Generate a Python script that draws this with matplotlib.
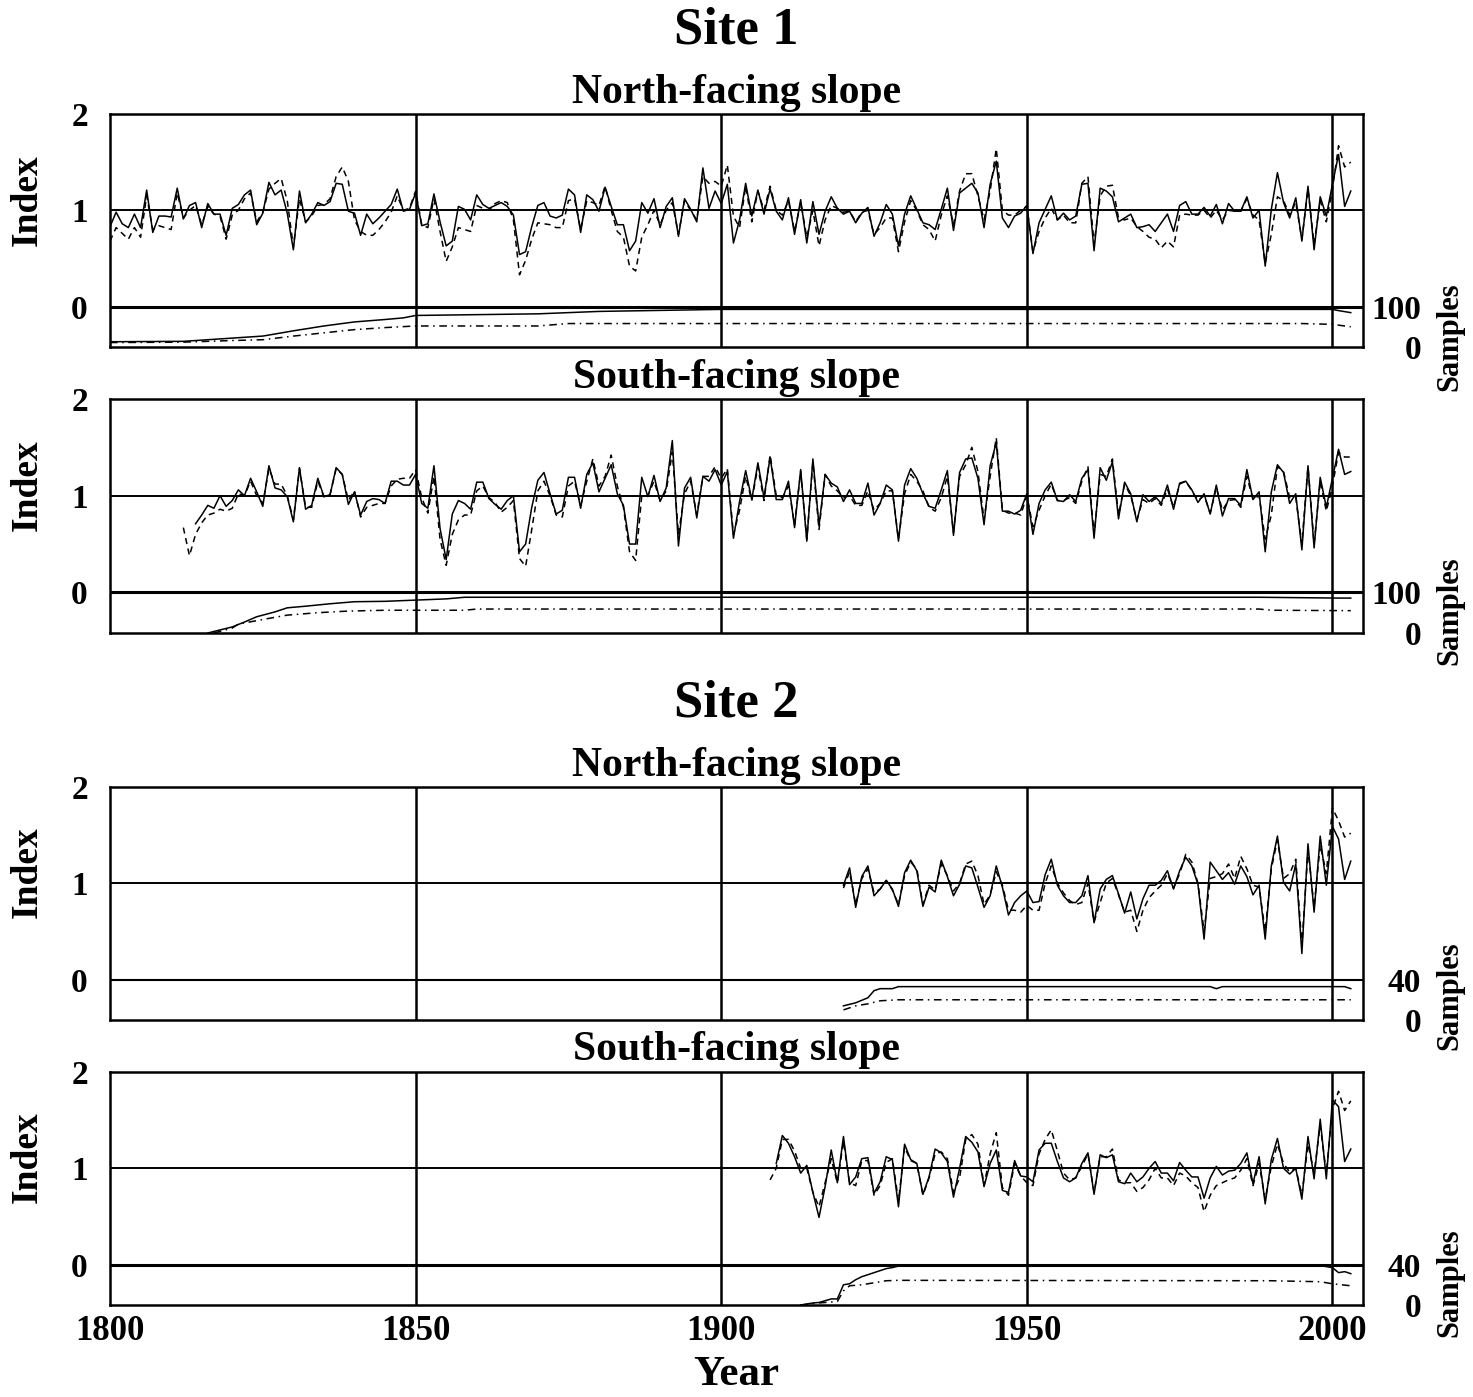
"""Tree-ring index chronologies with sample depth, two sites x two slopes."""
import numpy as np
import matplotlib
matplotlib.use("Agg")
import matplotlib.pyplot as plt

plt.rcParams["font.family"] = ["Liberation Serif", "DejaVu Serif"]
plt.rcParams["font.weight"] = "bold"

# ---------------- Site 1, north-facing slope ----------------
s1n_start_solid = 1800
s1n_solid = [
    0.83, 0.98, 0.86, 0.82, 0.96, 0.82, 1.21, 0.77, 0.94, 0.94,
    0.93, 1.23, 0.91, 1.05, 1.08, 0.82, 1.07, 0.96, 0.96, 0.74,
    1.02, 1.06, 1.16, 1.21, 0.85, 0.97, 1.29, 1.16, 1.21, 0.97,
    0.59, 1.20, 0.87, 0.96, 1.08, 1.05, 1.09, 1.28, 1.27, 0.99,
    0.97, 0.74, 0.96, 0.86, 0.92, 0.99, 1.06, 1.22, 0.99, 1.01,
    1.18, 0.84, 0.86, 1.17, 0.88, 0.63, 0.68, 1.04, 1.01, 0.90,
    1.16, 1.06, 1.02, 1.05, 1.08, 1.04, 0.95, 0.54, 0.57, 0.83,
    1.05, 1.08, 0.94, 0.92, 0.95, 1.22, 1.16, 0.77, 1.16, 1.11,
    0.99, 1.24, 1.04, 0.85, 0.85, 0.58, 0.68, 1.08, 0.97, 1.12,
    0.82, 1.04, 1.13, 0.73, 1.12, 1.01, 0.88, 1.44, 1.02, 1.20,
    1.07, 1.27, 0.66, 0.90, 1.28, 0.94, 1.21, 0.96, 1.22, 0.99,
    0.90, 1.13, 0.75, 1.11, 0.66, 1.09, 0.75, 0.99, 1.14, 1.02,
    0.96, 0.99, 0.87, 0.97, 1.03, 0.73, 0.87, 1.06, 0.96, 0.63,
    0.96, 1.15, 1.01, 0.87, 0.85, 0.80, 1.01, 1.23, 0.79, 1.18,
    1.23, 1.28, 1.18, 0.82, 1.27, 1.51, 0.92, 0.82, 0.94, 0.97,
    1.05, 0.55, 0.87, 1.01, 1.15, 0.90, 0.97, 0.90, 0.94, 1.27,
    1.28, 0.58, 1.23, 1.20, 1.14, 0.88, 0.92, 0.96, 0.82, 0.83,
    0.85, 0.78, 0.87, 0.96, 0.78, 1.05, 1.09, 0.96, 0.96, 1.03,
    0.94, 1.06, 0.86, 1.07, 0.99, 0.99, 1.14, 0.92, 1.00, 0.42,
    1.01, 1.39, 1.08, 0.92, 1.13, 0.68, 1.25, 0.59, 1.14, 0.94,
    1.27, 1.58, 1.04, 1.20,
]
s1n_start_dash = 1800
s1n_dash = [
    0.68, 0.82, 0.76, 0.70, 0.82, 0.72, 1.15, 0.80, 0.84, 0.82,
    0.80, 1.18, 0.92, 1.00, 1.05, 0.85, 1.04, 0.96, 0.94, 0.70,
    0.95, 1.00, 1.12, 1.18, 0.88, 0.98, 1.22, 1.28, 1.33, 1.10,
    0.62, 1.12, 0.88, 0.94, 1.05, 1.06, 1.12, 1.35, 1.45, 1.30,
    0.90, 0.78, 0.74, 0.74, 0.80, 0.88, 0.98, 1.15, 1.00, 1.02,
    1.20, 0.85, 0.82, 1.12, 0.78, 0.47, 0.62, 0.82, 0.80, 0.78,
    1.05, 1.02, 1.00, 1.07, 1.10, 1.08, 0.90, 0.33, 0.48, 0.70,
    0.87, 0.86, 0.85, 0.82, 0.82, 1.10, 1.12, 0.80, 1.10, 1.08,
    1.05, 1.25, 1.00, 0.78, 0.72, 0.42, 0.37, 0.72, 0.85, 1.00,
    0.85, 1.00, 1.08, 0.75, 1.10, 1.00, 0.90, 1.35, 1.28, 1.30,
    1.25, 1.47, 0.94, 0.82, 1.25, 0.88, 1.20, 1.00, 1.25, 1.00,
    0.95, 1.10, 0.78, 1.08, 0.72, 1.00, 0.63, 0.90, 1.05, 1.02,
    0.98, 0.99, 0.88, 0.98, 1.00, 0.75, 0.82, 0.92, 0.92, 0.57,
    0.88, 1.10, 1.00, 0.85, 0.80, 0.68, 0.95, 1.15, 0.85, 1.20,
    1.38, 1.38, 1.15, 0.90, 1.20, 1.64, 1.00, 0.95, 0.95, 1.00,
    1.04, 0.57, 0.78, 0.92, 1.02, 0.90, 0.95, 0.87, 0.87, 1.28,
    1.35, 0.65, 1.15, 1.25, 1.26, 0.92, 0.90, 0.92, 0.83, 0.78,
    0.72, 0.70, 0.61, 0.68, 0.62, 0.95, 0.96, 0.95, 0.95, 1.00,
    0.92, 1.00, 0.90, 1.00, 0.99, 0.99, 1.12, 0.95, 0.90, 0.45,
    0.75, 1.14, 1.10, 0.95, 1.08, 0.70, 1.22, 0.65, 1.10, 0.88,
    1.22, 1.67, 1.45, 1.50,
]
s1n_samp_years_solid = [1800, 1812, 1816, 1820, 1825, 1830, 1835, 1840, 1845,
                        1848, 1850, 1870, 1880, 1900, 2000, 2001, 2003]
s1n_samp_solid = [13, 14, 18, 22, 27, 40, 52, 62, 68, 72, 78, 82, 88, 93, 93,
                  90, 85]
s1n_samp_years_dash = [1800, 1812, 1820, 1825, 1830, 1835, 1840, 1845, 1850,
                       1870, 1875, 1995, 2000, 2003]
s1n_samp_dash = [11, 12, 16, 18, 27, 35, 43, 48, 52, 52, 58, 58, 56, 50]

# ---------------- Site 1, south-facing slope ----------------
s1s_start_solid = 1814
s1s_solid = [
    0.71, 0.80, 0.90, 0.87, 1.00, 0.89, 0.95, 1.06, 1.00, 1.18,
    1.04, 0.89, 1.31, 1.08, 1.06, 0.99, 0.73, 1.29, 0.86, 0.90,
    1.18, 0.99, 1.01, 1.29, 1.22, 0.91, 1.04, 0.80, 0.94, 0.97,
    0.96, 0.92, 1.15, 1.15, 1.11, 1.11, 1.22, 0.92, 0.87, 1.31,
    0.66, 0.34, 0.81, 0.95, 0.92, 0.86, 1.14, 1.14, 0.97, 0.91,
    0.86, 0.95, 1.00, 0.42, 0.50, 0.88, 1.16, 1.24, 1.02, 0.81,
    0.85, 1.19, 1.19, 0.87, 1.22, 1.34, 1.04, 1.18, 1.32, 1.02,
    0.90, 0.50, 0.50, 1.19, 0.99, 1.21, 0.94, 1.08, 1.57, 0.48,
    1.08, 1.19, 0.77, 1.20, 1.15, 1.27, 1.11, 1.25, 0.56, 0.94,
    1.26, 0.96, 1.34, 0.98, 1.40, 0.96, 0.96, 1.15, 0.67, 1.27,
    0.53, 1.38, 0.69, 1.22, 1.13, 1.09, 0.94, 1.06, 0.92, 0.92,
    1.13, 0.80, 0.92, 1.11, 1.06, 0.53, 1.11, 1.28, 1.18, 1.02,
    0.89, 0.87, 1.06, 1.26, 0.59, 1.24, 1.38, 1.39, 1.18, 0.70,
    1.31, 1.55, 0.84, 0.84, 0.81, 0.85, 1.02, 0.60, 0.92, 1.06,
    1.14, 0.95, 0.94, 1.01, 0.94, 1.18, 1.27, 0.56, 1.29, 1.16,
    1.35, 0.76, 1.14, 1.02, 0.73, 1.01, 0.94, 0.99, 0.92, 1.11,
    0.86, 1.13, 1.15, 1.06, 0.93, 1.02, 0.81, 1.11, 0.79, 0.97,
    0.97, 0.90, 1.27, 0.96, 1.04, 0.42, 1.04, 1.32, 1.24, 0.92,
    1.02, 0.44, 1.31, 0.46, 1.19, 0.88, 1.18, 1.48, 1.22, 1.25,
]
s1s_start_dash = 1812
s1s_dash = [
    0.67, 0.38, 0.60, 0.72, 0.80, 0.82, 0.86, 0.84, 0.87, 1.02,
    1.00, 1.15, 1.00, 0.92, 1.28, 1.12, 1.12, 1.00, 0.75, 1.28,
    0.88, 0.88, 1.15, 0.99, 1.01, 1.28, 1.22, 0.95, 1.05, 0.78,
    0.88, 0.90, 0.92, 0.92, 1.10, 1.17, 1.18, 1.18, 1.27, 0.98,
    0.82, 1.20, 0.55, 0.28, 0.60, 0.75, 0.80, 0.80, 1.05, 1.10,
    0.98, 0.93, 0.83, 0.88, 0.95, 0.35, 0.27, 0.65, 1.05, 1.15,
    1.00, 0.80, 0.78, 1.10, 1.15, 0.90, 1.15, 1.38, 1.10, 1.20,
    1.42, 1.10, 0.88, 0.42, 0.33, 1.00, 1.00, 1.15, 0.95, 1.05,
    1.45, 0.60, 1.02, 1.15, 0.80, 1.20, 1.20, 1.30, 1.18, 1.28,
    0.60, 0.85, 1.20, 0.95, 1.30, 0.95, 1.42, 1.00, 0.98, 1.10,
    0.70, 1.25, 0.55, 1.35, 0.65, 1.22, 1.10, 1.05, 0.98, 1.00,
    0.90, 0.90, 1.05, 0.85, 0.92, 1.05, 1.05, 0.55, 1.02, 1.22,
    1.15, 1.05, 0.88, 0.84, 0.98, 1.20, 0.62, 1.20, 1.32, 1.50,
    1.25, 0.75, 1.20, 1.60, 0.85, 0.82, 0.82, 0.80, 1.00, 0.68,
    0.85, 1.00, 1.12, 0.95, 0.95, 0.98, 0.92, 1.15, 1.30, 0.60,
    1.22, 1.20, 1.38, 0.80, 1.12, 1.00, 0.75, 0.96, 0.92, 0.97,
    0.90, 1.07, 0.88, 1.12, 1.15, 1.05, 0.95, 1.00, 0.82, 1.08,
    0.85, 0.95, 0.96, 0.88, 1.20, 0.96, 1.00, 0.55, 0.80, 1.30,
    1.25, 0.98, 0.98, 0.50, 1.30, 0.50, 1.15, 0.84, 1.10, 1.45,
    1.40, 1.40,
]
s1s_samp_years_solid = [1816, 1820, 1822, 1824, 1827, 1829, 1832, 1836, 1840,
                        1845, 1850, 1855, 1858, 1988, 2001, 2003]
s1s_samp_solid = [0, 15, 27, 40, 52, 62, 66, 72, 77, 78, 81, 84, 88, 88, 86, 86]
s1s_samp_years_dash = [1817, 1820, 1821, 1826, 1829, 1834, 1839, 1845, 1858,
                       1860, 1988, 1990, 2003]
s1s_samp_dash = [0, 12, 22, 36, 44, 50, 54, 56, 56, 59, 59, 56, 55]

# ---------------- Site 2, north-facing slope ----------------
s2n_start_solid = 1920
s2n_solid = [
    0.98, 1.16, 0.75, 1.07, 1.18, 0.87, 0.94, 1.03, 0.94, 0.76,
    1.11, 1.24, 1.13, 0.76, 0.96, 0.91, 1.24, 1.07, 0.87, 0.99,
    1.18, 1.16, 0.96, 0.75, 0.87, 1.18, 0.96, 0.67, 0.80, 0.87,
    0.92, 0.80, 0.81, 1.09, 1.25, 0.98, 0.87, 0.80, 0.80, 0.87,
    1.08, 0.59, 0.94, 1.04, 1.08, 0.89, 0.69, 0.91, 0.63, 0.84,
    0.98, 0.98, 1.03, 1.13, 0.94, 1.13, 1.27, 1.18, 0.99, 0.42,
    1.22, 1.13, 1.04, 1.11, 0.99, 1.18, 1.07, 0.88, 0.98, 0.42,
    1.18, 1.49, 1.01, 0.92, 1.20, 0.27, 1.41, 0.70, 1.49, 0.98,
    1.59, 1.46, 1.04, 1.23,
]
s2n_start_dash = 1920
s2n_dash = [
    0.95, 1.12, 0.78, 1.05, 1.15, 0.90, 0.94, 1.03, 0.93, 0.78,
    1.08, 1.22, 1.15, 0.78, 0.98, 0.93, 1.20, 1.08, 0.92, 1.00,
    1.20, 1.23, 1.08, 0.78, 0.88, 1.12, 0.98, 0.72, 0.72, 0.70,
    0.77, 0.72, 0.72, 1.00, 1.18, 1.00, 0.90, 0.82, 0.78, 0.80,
    1.00, 0.60, 0.80, 1.00, 1.05, 0.88, 0.70, 0.72, 0.50, 0.72,
    0.85, 0.92, 0.98, 1.10, 0.95, 1.10, 1.30, 1.22, 1.00, 0.50,
    1.05, 1.07, 1.10, 1.20, 1.05, 1.28, 1.15, 0.98, 0.96, 0.50,
    1.15, 1.45, 1.05, 1.10, 1.25, 0.35, 1.35, 0.75, 1.40, 1.10,
    1.78, 1.65, 1.48, 1.52,
]
s2n_samp_years_solid = [1920, 1922, 1924, 1925, 1926, 1928, 1929, 1980, 1981,
                        1982, 2002, 2003]
s2n_samp_solid = [14, 17, 22, 29, 31, 31, 33, 33, 31, 33, 33, 31]
s2n_samp_years_dash = [1920, 1922, 1924, 1926, 1929, 2003]
s2n_samp_dash = [10, 14, 16, 19, 20, 20]

# ---------------- Site 2, south-facing slope ----------------
s2s_start_solid = 1909
s2s_solid = [
    1.05, 1.34, 1.26, 1.12, 0.95, 1.03, 0.75, 0.49, 0.81, 1.19,
    0.85, 1.33, 0.83, 0.91, 1.10, 1.11, 0.74, 0.86, 1.12, 1.09,
    0.60, 1.25, 1.09, 1.05, 0.73, 0.91, 1.20, 1.16, 1.07, 0.70,
    1.00, 1.33, 1.27, 1.17, 0.81, 1.05, 1.19, 0.77, 0.75, 1.08,
    0.92, 0.91, 0.86, 1.19, 1.26, 1.26, 1.07, 0.90, 0.86, 0.90,
    1.05, 1.16, 0.73, 1.14, 1.11, 1.14, 0.86, 0.84, 0.95, 0.86,
    0.91, 1.00, 1.07, 0.95, 0.95, 0.87, 1.06, 0.98, 0.91, 0.91,
    0.69, 0.90, 1.02, 0.93, 0.97, 0.98, 1.05, 1.16, 0.84, 1.12,
    0.63, 1.09, 1.31, 1.00, 0.94, 1.00, 0.68, 1.33, 0.89, 1.51,
    0.89, 1.71, 1.64, 1.07, 1.20,
]
s2s_start_dash = 1908
s2s_dash = [
    0.88, 1.00, 1.30, 1.30, 1.18, 1.00, 1.00, 0.75, 0.60, 0.85,
    1.10, 0.85, 1.28, 0.85, 0.82, 1.08, 1.08, 0.72, 0.82, 1.06,
    1.10, 0.66, 1.22, 1.08, 1.05, 0.72, 0.90, 1.15, 1.17, 1.10,
    0.75, 0.90, 1.30, 1.35, 1.25, 0.82, 1.15, 1.37, 0.80, 0.72,
    1.05, 0.92, 0.85, 0.82, 1.15, 1.30, 1.40, 1.18, 0.95, 0.88,
    0.90, 1.02, 1.15, 0.75, 1.12, 1.12, 1.20, 0.88, 0.85, 0.85,
    0.76, 0.80, 0.88, 1.00, 0.90, 0.90, 0.82, 0.95, 0.92, 0.85,
    0.80, 0.55, 0.72, 0.82, 0.85, 0.88, 0.90, 0.98, 1.10, 0.82,
    1.05, 0.68, 1.02, 1.25, 1.05, 0.96, 1.00, 0.72, 1.25, 0.95,
    1.45, 0.95, 1.62, 1.80, 1.60, 1.70,
]
s2s_samp_years_solid = [1913, 1915, 1916, 1918, 1919, 1920, 1921, 1922, 1923,
                        1925, 1926, 1927, 1928, 1929, 1930, 1998, 2000, 2001,
                        2002, 2003]
s2s_samp_solid = [0, 2, 2.5, 6, 6, 20, 21, 25, 28, 32, 34, 36, 37, 38.5, 39,
                  39, 37, 32, 33, 31]
s2s_samp_years_dash = [1913, 1916, 1919, 1920, 1921, 1923, 1925, 1927, 1929,
                       1990, 1998, 2000, 2003]
s2s_samp_dash = [0, 2, 3.5, 14, 19, 20, 22, 24, 24.4, 24, 23, 21, 19]

decades = [1800, 1850, 1900, 1950, 2000]

YLO, YHI = -0.42, 2.0
FW, FH = 1473, 1397
LEFT, RIGHT = 110, 1363

# pixel positions: axes top/bottom, title, "Index" and "Samples" label centres
panels = [
    dict(top=114, bot=347, title="North-facing slope", ty=93, iy=200, sy=337,
         solid=(s1n_start_solid, s1n_solid), dash=(s1n_start_dash, s1n_dash),
         samp_s=(s1n_samp_years_solid, s1n_samp_solid),
         samp_d=(s1n_samp_years_dash, s1n_samp_dash), smax=100, zlw=2.2),
    dict(top=399, bot=633, title="South-facing slope", ty=378, iy=485, sy=611,
         solid=(s1s_start_solid, s1s_solid), dash=(s1s_start_dash, s1s_dash),
         samp_s=(s1s_samp_years_solid, s1s_samp_solid),
         samp_d=(s1s_samp_years_dash, s1s_samp_dash), smax=100, zlw=2.2),
    dict(top=787, bot=1020, title="North-facing slope", ty=766, iy=872, sy=996,
         solid=(s2n_start_solid, s2n_solid), dash=(s2n_start_dash, s2n_dash),
         samp_s=(s2n_samp_years_solid, s2n_samp_solid),
         samp_d=(s2n_samp_years_dash, s2n_samp_dash), smax=40, zlw=1.5),
    dict(top=1072, bot=1305, title="South-facing slope", ty=1050, iy=1157, sy=1283,
         solid=(s2s_start_solid, s2s_solid), dash=(s2s_start_dash, s2s_dash),
         samp_s=(s2s_samp_years_solid, s2s_samp_solid),
         samp_d=(s2s_samp_years_dash, s2s_samp_dash), smax=40, zlw=2.2),
]

fig = plt.figure(figsize=(FW / 100, FH / 100), dpi=100)


def fy(py):
    return 1 - py / FH


for k, p in enumerate(panels):
    ax = fig.add_axes([LEFT / FW, fy(p["bot"]), (RIGHT - LEFT) / FW,
                       (p["bot"] - p["top"]) / FH])
    ax.set_xlim(1800, 2005)
    ax.set_ylim(YLO, YHI)
    for s in ax.spines.values():
        s.set_linewidth(1.8)

    for d in decades[1:]:
        ax.axvline(d, color="k", lw=1.8, zorder=1)
    ax.axhline(1, color="k", lw=1.4, zorder=1)
    ax.axhline(0, color="k", lw=p["zlw"], zorder=1)

    y0, vals = p["solid"]
    ax.plot(np.arange(y0, y0 + len(vals)), vals, color="k", lw=1.1, zorder=3)
    y0, vals = p["dash"]
    ax.plot(np.arange(y0, y0 + len(vals)), vals, color="k", lw=1.1,
            dashes=(4, 3), zorder=2)

    ax.set_yticks([0, 1, 2])
    ax.set_yticklabels(["0", "1", "2"], fontsize=24, fontweight="bold")
    ax.tick_params(axis="y", length=0, pad=16)
    if k == len(panels) - 1:
        ax.set_xticks(decades)
        ax.set_xticklabels([str(d) for d in decades], fontsize=25,
                           fontweight="bold")
        ax.tick_params(axis="x", length=0, pad=7)
    else:
        ax.set_xticks([])

    # sample depth on a twin axis: 0 at the bottom, smax at index 0
    ax2 = ax.twinx()
    smax = p["smax"]
    ax2.set_ylim(0, smax * (YHI - YLO) / (0 - YLO))
    yrs, cnt = p["samp_s"]
    ax2.plot(yrs, cnt, color="k", lw=1.1)
    yrs, cnt = p["samp_d"]
    ax2.plot(yrs, cnt, color="k", lw=1.1, dashes=(5, 3, 1, 3))
    ax2.set_yticks([0, smax])
    ax2.set_yticklabels(["0", str(smax)], fontsize=24, fontweight="bold",
                        ha="right")
    ax2.tick_params(axis="y", length=0, pad=42)
    for s in ax2.spines.values():
        s.set_visible(False)

    fig.text(0.5, fy(p["ty"]), p["title"], ha="center", va="center",
             fontsize=30, fontweight="bold")
    fig.text(27 / FW, fy(p["iy"]), "Index", rotation=90, ha="center",
             va="center", fontsize=27, fontweight="bold")
    fig.text(1450 / FW, fy(p["sy"]), "Samples", rotation=90, ha="center",
             va="center", fontsize=22, fontweight="bold")

fig.text(0.5, fy(30), "Site 1", ha="center", va="center", fontsize=38,
         fontweight="bold")
fig.text(0.5, fy(703), "Site 2", ha="center", va="center", fontsize=38,
         fontweight="bold")
fig.text(0.5, fy(1375), "Year", ha="center", va="center", fontsize=31,
         fontweight="bold")

fig.savefig("out.png", dpi=100)
